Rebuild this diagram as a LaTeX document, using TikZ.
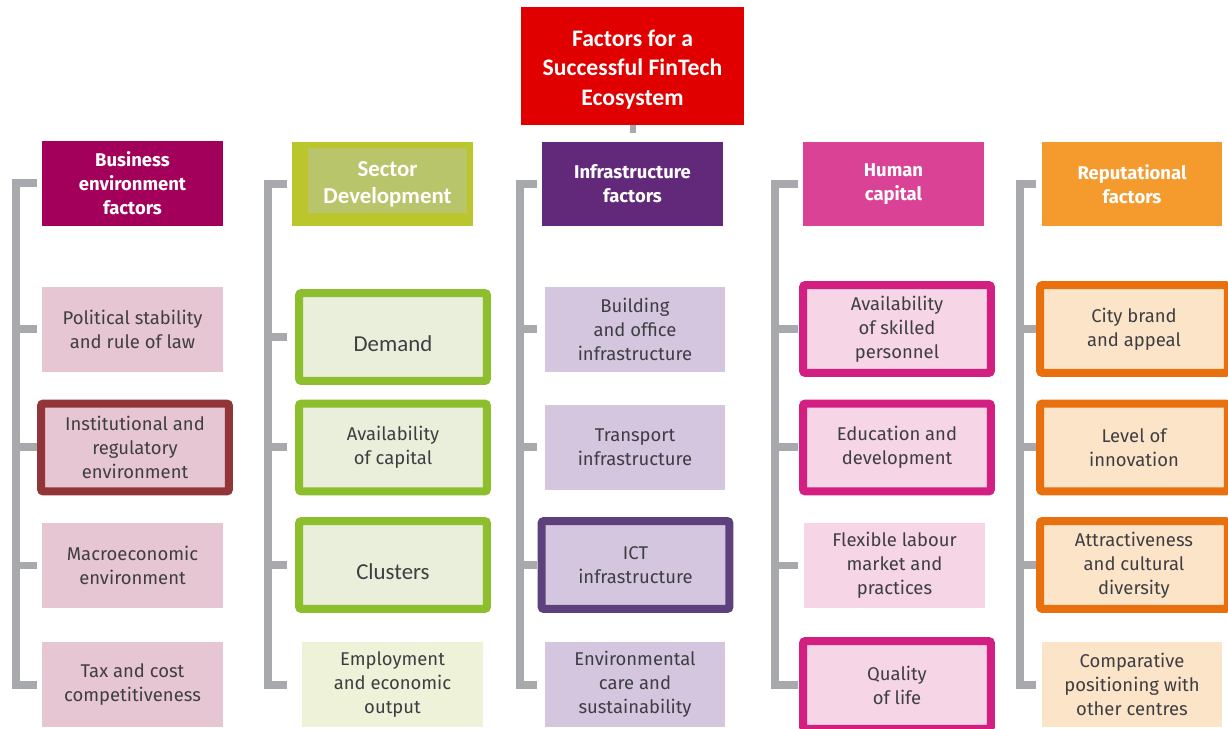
\documentclass[tikz,border=0pt]{standalone}
\usepackage{fontspec}
\setmainfont{Fira Sans}
\newfontfamily\calfont{Carlito}

\definecolor{titlered}{HTML}{E00000}
\definecolor{railgray}{HTML}{A7A9AC}
\definecolor{txtgray}{HTML}{3E3E42}
\definecolor{busdark}{HTML}{A2005A}
\definecolor{buslight}{HTML}{E7C6D3}
\definecolor{busline}{HTML}{923539}
\definecolor{secdark}{HTML}{BAC62B}
\definecolor{secinner}{HTML}{B8C56B}
\definecolor{seclight}{HTML}{E9EFDA}
\definecolor{secpale}{HTML}{EEF2D9}
\definecolor{secline}{HTML}{8CBE2D}
\definecolor{infdark}{HTML}{62287A}
\definecolor{inflight}{HTML}{D4C6DF}
\definecolor{infline}{HTML}{5E417C}
\definecolor{humdark}{HTML}{DA4296}
\definecolor{humlight}{HTML}{F5D5E6}
\definecolor{humline}{HTML}{D31F81}
\definecolor{repdark}{HTML}{F59B2D}
\definecolor{replight}{HTML}{FCE4C8}
\definecolor{repline}{HTML}{E8700F}

\begin{document}
\begin{tikzpicture}[x=0.02cm,y=-0.02cm,
  rail/.style={draw=railgray,line width=0.16cm},
  hdr/.style={minimum width=3.62cm,minimum height=1.7cm,inner sep=0pt,align=center,
    text=white,font=\bfseries\fontsize{10.5}{13.6}\selectfont},
  item/.style={minimum width=3.62cm,minimum height=1.7cm,inner sep=0pt,align=center,
    text=txtgray,font=\fontsize{10.5}{13.6}\selectfont},
  key/.style={item,line width=0.16cm,minimum width=3.76cm,minimum height=1.76cm,
    rounded corners=0.05cm},
  cal/.style={font=\calfont\fontsize{13}{15.3}\selectfont}]
\useasboundingbox (0,0) rectangle (1228,729);

\node[fill=titlered,minimum width=4.46cm,minimum height=2.36cm,align=center,text=white,
  font=\calfont\bfseries\fontsize{13.5}{16.8}\selectfont] (title) at (632.5,66)
  {\raisebox{-2pt}[\height][\depth]{\parbox{4cm}{\centering Factors for a\\Successful FinTech\\Ecosystem}}};

% column heads
\node[hdr,fill=busdark] (hbus) at (132.5,183.5) {Business\\environment\\factors};
\node[hdr,fill=secdark,font=\calfont\bfseries\fontsize{13}{15.3}\selectfont,
  path picture={\fill[secinner] ([shift={(0.32cm,-0.12cm)}]path picture bounding box.north west)
    rectangle ([shift={(-0.12cm,0.26cm)}]path picture bounding box.south east);}]
  (hsec) at (382.5,184) {\hspace*{0.2cm}Sector\\\hspace*{0.2cm}Development};
\node[hdr,fill=infdark] (hinf) at (632.5,184) {Infrastructure\\factors};
\node[hdr,fill=humdark] (hhum) at (893.5,184) {Human\\capital};
\node[hdr,fill=repdark] (hrep) at (1132,184) {Reputational\\factors};

% business environment
\node[item,fill=buslight] (bus1) at (132.5,329.5) {Political stability\\and rule of law};
\node[key,fill=buslight,draw=busline] (bus2) at (135,447.5) {Institutional and\\regulatory\\environment};
\node[item,fill=buslight] (bus3) at (132.5,565.5) {Macroeconomic\\environment};
\node[item,fill=buslight] (bus4) at (132.5,684.5) {Tax and cost\\competitiveness};

% sector development
\node[key,fill=seclight,draw=secline,cal] (sec1) at (393,337) {\raisebox{-4pt}[\height][\depth]{Demand}};
\node[key,fill=seclight,draw=secline] (sec2) at (393,447.5) {Availability\\of capital};
\node[key,fill=seclight,draw=secline,cal] (sec3) at (393,565) {\raisebox{-4pt}[\height][\depth]{Clusters}};
\node[item,fill=secpale] (sec4) at (392.5,684.5) {Employment\\and economic\\output};

% infrastructure
\node[item,fill=inflight] (inf1) at (635,329.5) {Building\\and office\\infrastructure};
\node[item,fill=inflight] (inf2) at (635,447.5) {Transport\\infrastructure};
\node[key,fill=inflight,draw=infline] (inf3) at (635.5,565) {ICT\\infrastructure};
\node[item,fill=inflight] (inf4) at (635,684.5) {Environmental\\care and\\sustainability};

% human capital
\node[key,fill=humlight,draw=humline] (hum1) at (897,329) {Availability\\of skilled\\personnel};
\node[key,fill=humlight,draw=humline] (hum2) at (897,447.5) {Education and\\development};
\node[item,fill=humlight] (hum3) at (894.5,565.5) {Flexible labour\\market and\\practices};
\node[key,fill=humlight,draw=humline] (hum4) at (897,685) {Quality\\of life};

% reputation
\node[key,fill=replight,draw=repline] (rep1) at (1134,329) {City brand\\and appeal};
\node[key,fill=replight,draw=repline] (rep2) at (1134,447.5) {Level of\\innovation};
\node[key,fill=replight,draw=repline] (rep3) at (1134,565) {Attractiveness\\and cultural\\diversity};
\node[item,fill=replight] (rep4) at (1132,684.5) {Comparative\\positioning with\\other centres};

\draw[rail,line width=0.12cm,shorten >=0.16cm] (title) -- (hinf);

% brackets
\foreach \c/\d in {bus/0.52,sec/0.48,inf/0.44,hum/0.56,rep/0.42}
	{
	\coordinate (\c-a) at ([xshift=-0.1cm]h\c.west);
	\coordinate (\c-s) at ([xshift=-\d cm]h\c.west);
	\draw[rail] (\c-a) -| (\c-s |- \c4) -- (\c-a |- \c4);
	\foreach \i in {1,2,3}
		\draw[rail] (\c-s |- \c\i) -- (\c-a |- \c\i);
	}
\end{tikzpicture}
\end{document}
